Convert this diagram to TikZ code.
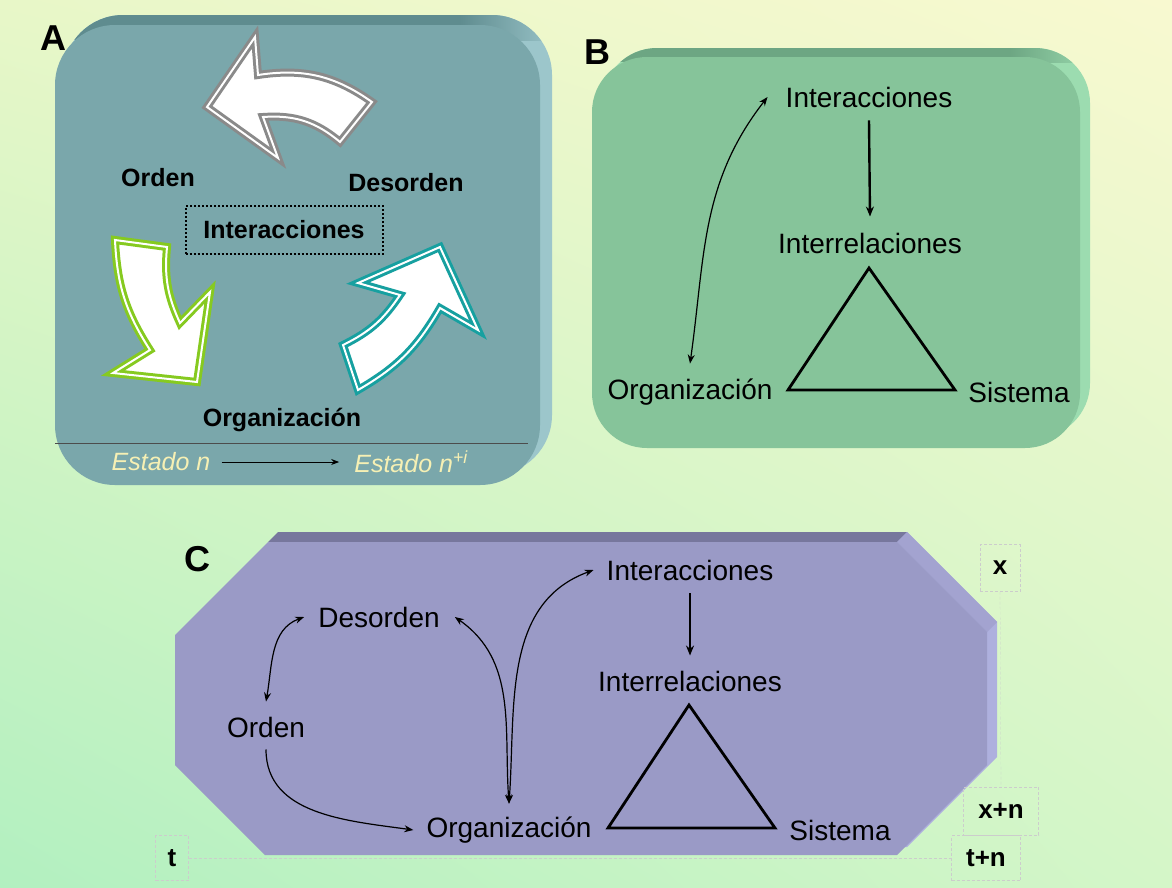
\documentclass[tikz,border=0pt]{standalone}
\usepackage{fontspec}
\setmainfont{Liberation Sans}
\usepackage{tikz}
\usetikzlibrary{arrows.meta,shadings}

\definecolor{bgyellow}{HTML}{F8F9D0}
\definecolor{bgleaf}{HTML}{E8F7C8}
\definecolor{bggreen}{HTML}{B2F0C0}
\definecolor{bgpale}{HTML}{D4F6C8}
\definecolor{aface}{HTML}{7AA7AB}
\definecolor{atop}{HTML}{5F8C8F}
\definecolor{aside}{HTML}{9CC6CB}
\definecolor{bface}{HTML}{86C49A}
\definecolor{btop}{HTML}{6DA683}
\definecolor{bside}{HTML}{9CDCB0}
\definecolor{cface}{HTML}{9A9AC6}
\definecolor{ctop}{HTML}{77779D}
\definecolor{cside}{HTML}{AEB0DE}
\definecolor{cdiag}{HTML}{A3A3D0}
\definecolor{estado}{HTML}{F6F0B4}
\definecolor{arrgrey}{HTML}{8A8A8A}
\definecolor{arrgreen}{HTML}{86CA20}
\definecolor{arrteal}{HTML}{17A0A0}

\begin{document}
\begin{tikzpicture}[x=1pt, y=1pt, >={Stealth[length=9pt,width=7pt]},
  lbl/.style={inner sep=0pt, font=\fontsize{28}{30}\selectfont},
  blbl/.style={inner sep=0pt, font=\bfseries\fontsize{25}{27}\selectfont},
  panellbl/.style={inner sep=0pt, font=\bfseries\fontsize{36}{38}\selectfont},
  estlbl/.style={inner sep=0pt, text=estado, font=\itshape\fontsize{25}{27}\selectfont},
  tbox/.style={draw=gray!40, densely dashed, very thin, inner sep=0pt,
    font=\bfseries\fontsize{26}{28}\selectfont},
  cyc/.style={fill=white, line width=3pt, double=white, double distance=2pt, line join=miter},
  link/.style={line width=1.2pt},
  tri/.style={line width=2.8pt, line join=miter},
]
  % background, pale yellow at the top right fading to green at the bottom left
  \useasboundingbox (0,0) rectangle (1172,-887);
  \shade[upper left=bgleaf, upper right=bgyellow, lower left=bggreen, lower right=bgpale]
    (0,0) rectangle (1172,-887);

  % (A) the order / disorder / organisation cycle
  \begin{scope}
    \clip[rounded corners=60] (63,-15) rectangle (552,-475);
    \fill[aside] (0,0) rectangle (600,-500);
    \fill[atop] (0,0) rectangle (460,-40);
    \shade[left color=atop, right color=aside] (460,0) rectangle (560,-40);
  \end{scope}
  \fill[aface, rounded corners=60] (55,-25) rectangle (540,-485);
  \draw[black!70, line width=1pt] (55,-443) -- (528,-443);
  \node[panellbl] (lblA) at (53,-38) {A};
  \node[blbl] (ordA) at (158,-178) {Orden};
  \node[blbl] (desA) at (406,-183) {Desorden};
  \node[blbl, draw, dotted, line width=2pt, minimum width=197, minimum height=48]
    (intA) at (284,-230) {Interacciones};
  \node[blbl] (orgA) at (282,-420) {Organización};
  \path[cyc, draw=arrgrey] (372,-102) to[bend right=22] (258,-75) -- (255,-37) -- (207,-107)
    -- (278,-158) -- (263,-117) to[bend left=22] (340,-142) -- cycle;
  \path[cyc, draw=arrgreen] (115,-240) -- (167,-247) to[bend right=15] (180,-323) -- (210,-292)
    -- (197,-382) -- (113,-373) -- (150,-350) to[bend left=15] (115,-240) -- cycle;
  \path[cyc, draw=arrteal] (343,-345) to[bend right=15] (400,-295) -- (358,-283) -- (440,-247)
    -- (478,-330) -- (440,-308) to[bend left=15] (358,-390) -- cycle;
  \node[estlbl] (estA) at (161,-462) {Estado n};
  \node[estlbl] (estB) at (411,-462) {Estado n\textsuperscript{+i}};
  \draw[->, line width=1pt, >={Stealth[length=8pt,width=6pt]}]
    ([xshift=11pt]estA.east) -- ([xshift=-15pt]estB.west);

  % (B) interactions, interrelations and the system triangle
  \begin{scope}
    \clip[rounded corners=55] (602,-48) rectangle (1090,-438);
    \fill[bside] (560,0) rectangle (1120,-460);
    \fill[btop] (560,0) rectangle (1010,-62);
    \shade[left color=btop, right color=bside] (1010,0) rectangle (1100,-62);
  \end{scope}
  \fill[bface, rounded corners=55] (592,-57) rectangle (1080,-448);
  \node[panellbl] (lblB) at (597,-52) {B};
  \node[lbl] (intB) at (869,-97) {Interacciones};
  \node[lbl] (relB) at (870,-243) {Interrelaciones};
  \node[lbl] (orgB) at (690,-392) {Organización};
  \node[lbl] (sisB) at (1019,-392) {Sistema};
  \draw[->, line width=2.4pt, >={Stealth[length=10pt,width=8pt]}]
    ([yshift=-13pt]intB.south) -- ([yshift=16pt]relB.north);
  \draw[<->, link] ([yshift=15pt]orgB.north) to[out=82, in=232]
    ([xshift=-18pt]intB.west);
  \draw[tri] (869,-268) -- (955,-390) -- (788,-390) -- cycle;

  % (C) the same scheme laid out along time t and space x
  \fill[cside] (278,-532) -- (907,-532) -- (997,-622) -- (997,-757) -- (907,-847)
    -- (275,-847) -- cycle;
  \fill[ctop] (268,-542) -- (278,-532) -- (907,-532) -- (897,-542) -- cycle;
  \fill[cdiag] (897,-542) -- (907,-532) -- (997,-622) -- (987,-632) -- cycle;
  \fill[cface] (268,-542) -- (897,-542) -- (987,-632) -- (987,-765) -- (897,-855)
    -- (265,-855) -- (175,-765) -- (175,-635) -- cycle;
  \node[panellbl] (lblC) at (197,-559) {C};
  \node[lbl] (desC) at (379,-617) {Desorden};
  \node[lbl] (ordC) at (266,-727) {Orden};
  \node[lbl] (orgC) at (509,-830) {Organización};
  \node[lbl] (intC) at (690,-570) {Interacciones};
  \node[lbl] (relC) at (690,-681) {Interrelaciones};
  \node[lbl] (sisC) at (840,-830) {Sistema};
  \coordinate (orgCtop) at ([yshift=13pt]orgC.north);
  \draw[->, line width=2.4pt, >={Stealth[length=10pt,width=8pt]}]
    ([yshift=-13pt]intC.south) -- ([yshift=15pt]relC.north);
  \draw[<->, link] ([yshift=15pt]ordC.north) to[out=80, in=200] ([xshift=-14pt]desC.west);
  \draw[->, link] ([yshift=-12pt]ordC.south) to[out=-90, in=172] ([xshift=-13pt]orgC.west);
  \draw[<->, link] (orgCtop) to[out=94, in=-35] ([xshift=15pt]desC.east);
  \draw[<->, link] (orgCtop) to[out=86, in=200] ([xshift=-13pt]intC.west);
  \draw[tri] (689,-705) -- (775,-828) -- (608,-828) -- cycle;
  % axes of the octagon: space x to x+n, time t to t+n
  \node[tbox, minimum width=40, minimum height=47] (bx) at (1000,-568) {x};
  \node[tbox, minimum width=75, minimum height=48] (bxn) at (1001,-811) {x+n};
  \node[tbox, minimum width=69, minimum height=45] (btn) at (986,-858) {t+n};
  \node[tbox, minimum width=33, minimum height=45] (bt) at (172,-858) {t};
  \draw[gray!40, densely dashed, very thin] (bx.south) -- (bxn.north);
  \draw[gray!40, densely dashed, very thin] (bt.east) -- (btn.west);
\end{tikzpicture}
\end{document}
